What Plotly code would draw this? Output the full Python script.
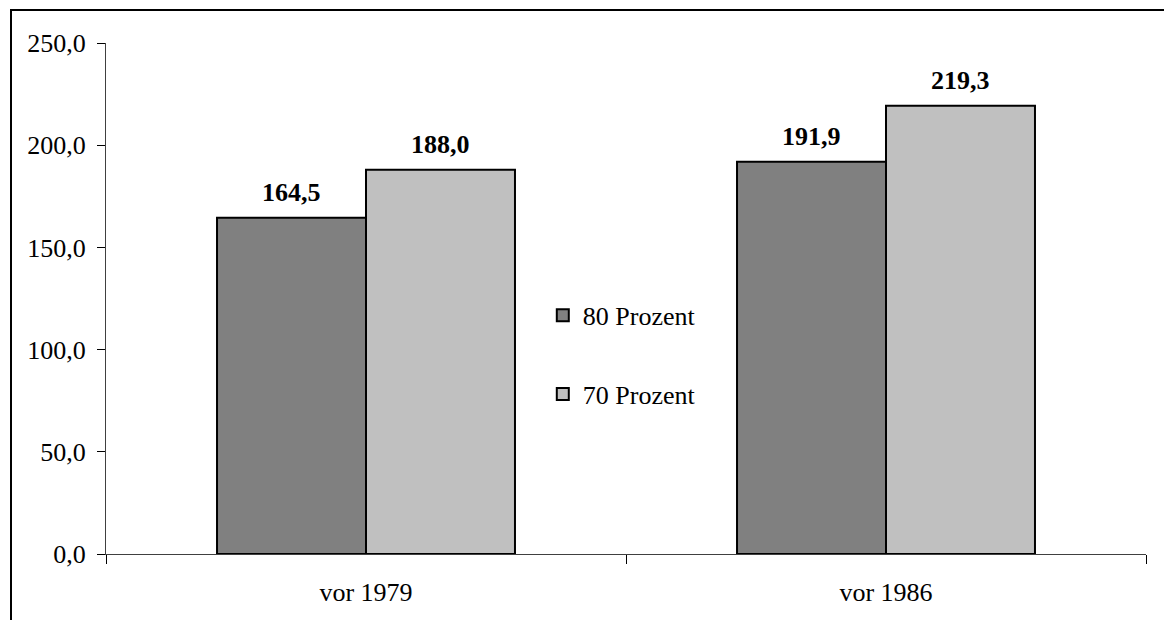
import plotly.graph_objects as go

categories = ["vor 1979", "vor 1986"]
series_names = ["80 Prozent", "70 Prozent"]
values_80 = [164.5, 191.9]
values_70 = [188.0, 219.3]
colors = ["#808080", "#C0C0C0"]
y_ticks = [0, 50, 100, 150, 200, 250]
y_tick_labels = ["0,0", "50,0", "100,0", "150,0", "200,0", "250,0"]

FONT = "Liberation Serif, Times New Roman, serif"
BARGAP = 0.427

def fmt(v):
    return f"{v:.1f}".replace(".", ",")

fig = go.Figure()
for i, (name, vals) in enumerate(zip(series_names, [values_80, values_70])):
    fig.add_trace(go.Bar(
        x=categories, y=vals, name=name,
        marker=dict(color=colors[i], line=dict(color="black", width=2)),
        legendgroup=name,
    ))

# value labels above bars
w = (1 - BARGAP) / 2
for s, vals in enumerate([values_80, values_70]):
    for ci, v in enumerate(vals):
        fig.add_annotation(
            x=ci + (s - 0.5) * w, y=v, xref="x", yref="y",
            text=f"<b>{fmt(v)}</b>", showarrow=False,
            yanchor="bottom", yshift=9,
            font=dict(family=FONT, size=26, color="black"),
        )

# outer frame (partially cropped)
fig.add_shape(type="rect", xref="paper", yref="paper",
              x0=(11 - 106) / 1040, x1=(1190 - 106) / 1040,
              y0=(554 - 640) / 511, y1=(554 - 10) / 511,
              line=dict(color="black", width=2), fillcolor="rgba(0,0,0,0)")

fig.update_layout(
    width=1164, height=612,
    margin=dict(l=98, r=26, t=35, b=66),
    paper_bgcolor="white", plot_bgcolor="white",
    barmode="group", bargap=BARGAP, bargroupgap=0,
    font=dict(family=FONT, size=26, color="black"),
    showlegend=True,
    legend=dict(x=0.42, y=0.513, xanchor="left", yanchor="top",
                bgcolor="rgba(0,0,0,0)", traceorder="grouped",
                tracegroupgap=42, font=dict(family=FONT, size=26)),
    xaxis=dict(type="category", tickson="boundaries", ticks="outside",
               ticklen=9, tickcolor="black", showline=True,
               linecolor="#404040", linewidth=1, showgrid=False,
               range=[-0.5, 1.5], tickfont=dict(size=26),
               ticklabelstandoff=15),
    yaxis=dict(range=[0, 250], tickvals=y_ticks, ticktext=y_tick_labels,
               ticks="outside", ticklen=8, tickcolor="black",
               showline=True, linecolor="#404040", linewidth=1,
               showgrid=False, zeroline=False, tickfont=dict(size=26),
               ticklabelstandoff=6),
)

fig.write_html("out.html")
